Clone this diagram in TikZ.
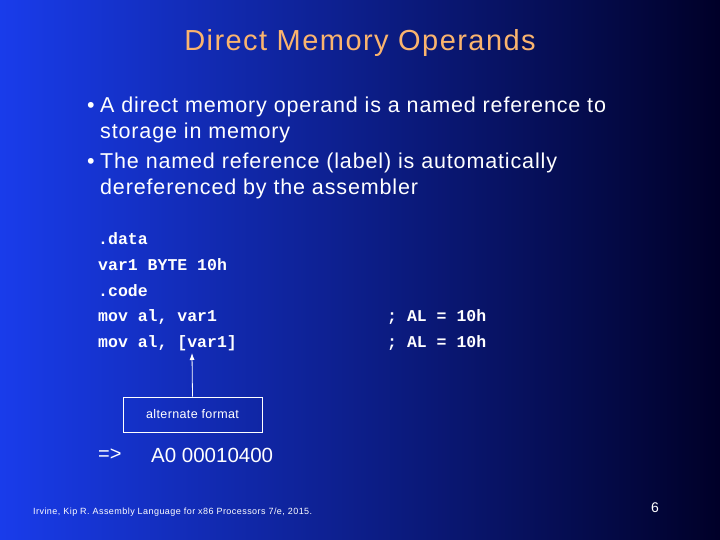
\documentclass[tikz,border=0pt]{standalone}
\usepackage{fontspec}
\setmainfont{Liberation Sans}
\newfontfamily\codefont{Liberation Mono}
\newfontfamily\widefont[LetterSpace=4]{Liberation Sans}
\newfontfamily\titlefont[LetterSpace=5]{Liberation Sans}
\newfontfamily\citefont[LetterSpace=5]{Liberation Sans}
\newfontfamily\boxfont[LetterSpace=3]{Liberation Sans}
\usetikzlibrary{arrows.meta}
\definecolor{titlec}{RGB}{250,180,110}
\definecolor{bgl}{RGB}{25,60,235}
\definecolor{bgr}{RGB}{0,0,40}
\begin{document}
\begin{tikzpicture}[x=1pt,y=-1pt,
  txt/.style={text=white,anchor=west,inner sep=0pt,font=\widefont\fontsize{21.5}{20}\selectfont},
  code/.style={text=white,anchor=west,inner sep=0pt,font=\codefont\bfseries\fontsize{16.5}{16}\selectfont}]
\shade[left color=bgl,right color=bgr] (0,0) rectangle (720,540);
\useasboundingbox (0,0) rectangle (720,540);
\node[text=titlec,font=\titlefont\fontsize{29}{29}\selectfont] (title) at (360,43) {Direct Memory Operands};
\node[txt] (b1) at (87,107) {•};
\node[txt] (l1) at (100,107) {A direct memory operand is a named reference to};
\node[txt] (l2) at (100,133) {storage in memory};
\node[txt] (b2) at (87,163) {•};
\node[txt] (l3) at (100,163) {The named reference (label) is automatically};
\node[txt] (l4) at (100,189) {dereferenced by the assembler};
\node[code] (c1) at (98,239) {.data};
\node[code] (c2) at (98,265) {var1 BYTE 10h};
\node[code] (c3) at (98,291) {.code};
\node[code] (c4) at (98,317) {mov al, var1};
\node[code] (c5) at (98,343) {mov al, [var1]};
\node[code] (k1) at (387,317) {; AL = 10h};
\node[code] (k2) at (387,343) {; AL = 10h};
\coordinate (tip) at (192,353);
\node[draw=white,line width=0.8pt,text=white,minimum width=139pt,minimum height=35pt,inner sep=0pt,font=\boxfont\fontsize{12.5}{12}\selectfont] (box) at (192.5,414.5) {alternate format};
\draw[white,line width=0.8pt,-{Latex[length=7pt,width=5pt]}] (box.north) -- (tip);
\node[text=white,anchor=west,inner sep=0pt,font=\fontsize{20}{20}\selectfont] (arr) at (98,455) {=>};
\node[text=white,anchor=west,inner sep=0pt,font=\fontsize{20.5}{20}\selectfont] (hex) at (151,455) {A0 00010400};
\node[text=white,anchor=west,inner sep=0pt,font=\citefont\fontsize{9}{9}\selectfont] (cite) at (33,512) {Irvine, Kip R. Assembly Language for x86 Processors 7/e, 2015.};
\node[text=white,inner sep=0pt,font=\fontsize{14}{14}\selectfont] (pg) at (655,508) {6};
\end{tikzpicture}
\end{document}
